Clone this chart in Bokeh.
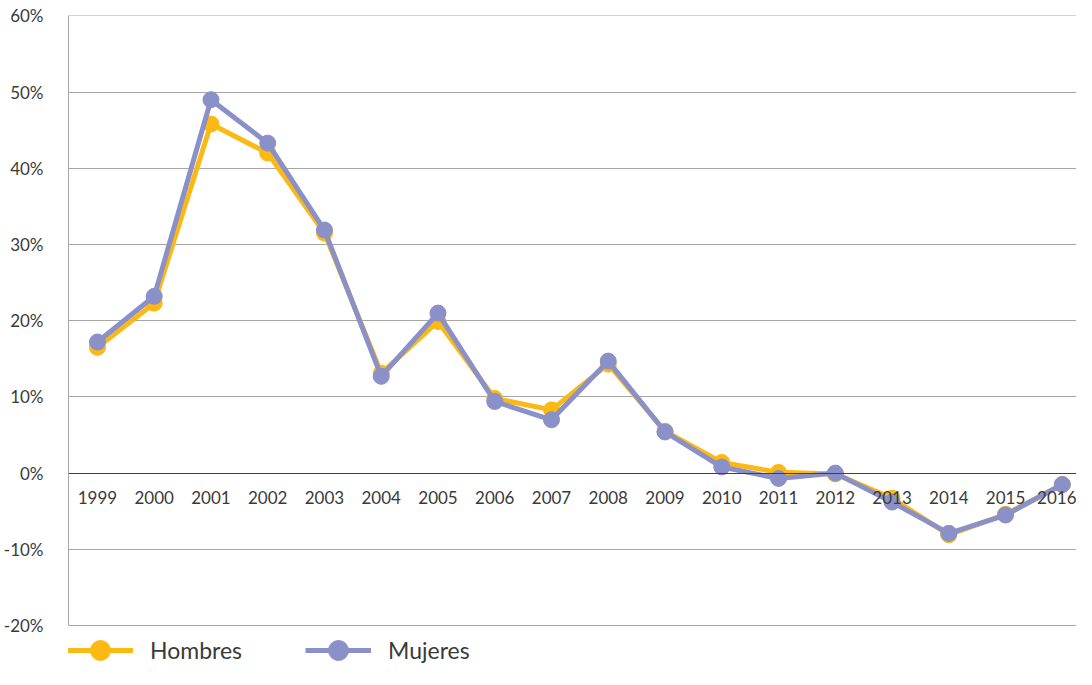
from bokeh.plotting import figure
from bokeh.models import (Range1d, FixedTicker, NumeralTickFormatter, Legend, LegendItem,
                          BasicTickFormatter)
from bokeh.embed import file_html
from bokeh.resources import INLINE

years = [1999, 2000, 2001, 2002, 2003, 2004, 2005, 2006, 2007, 2008,
         2009, 2010, 2011, 2012, 2013, 2014, 2015, 2016]
hombres = [0.165, 0.223, 0.458, 0.420, 0.315, 0.131, 0.199, 0.098, 0.083, 0.143,
           0.055, 0.014, 0.001, -0.001, -0.033, -0.081, -0.054, -0.015]
mujeres = [0.172, 0.232, 0.490, 0.433, 0.319, 0.127, 0.210, 0.094, 0.070, 0.147,
           0.054, 0.008, -0.007, 0.000, -0.038, -0.079, -0.055, -0.015]
y_ticks = [-0.2, -0.1, 0.0, 0.1, 0.2, 0.3, 0.4, 0.5, 0.6]

YELLOW = "#FDB913"
PURPLE = "#8A90C8"
FONT = "Lato"
TXT = "#3a3a3a"

p = figure(width=1076, height=669, output_backend="svg", toolbar_location=None,
           x_range=Range1d(1998.49, 2016.25), y_range=Range1d(-0.2577, 0.6005),
           min_border_left=66, min_border_right=0, min_border_top=15, min_border_bottom=0)
p.outline_line_color = None
p.background_fill_color = "white"

# lines
lh = p.line(years, hombres, line_color=YELLOW, line_width=5)
sh = p.scatter(years, hombres, size=16, fill_color=YELLOW, line_color=YELLOW)
lm = p.line(years, mujeres, line_color=PURPLE, line_width=5)
sm = p.scatter(years, mujeres, size=16, fill_color=PURPLE, line_color=PURPLE)

# x axis at zero
xa = p.xaxis[0]
xa.fixed_location = 0
xa.ticker = FixedTicker(ticks=years)
xa.formatter = BasicTickFormatter(use_scientific=False)
xa.axis_line_color = "#404040"
xa.axis_line_width = 1
xa.major_tick_line_color = None
xa.minor_tick_line_color = None
xa.major_label_standoff = 12
xa.major_label_text_font = FONT
xa.major_label_text_font_size = "17px"
xa.major_label_text_color = TXT

ya = p.yaxis[0]
ya.ticker = FixedTicker(ticks=y_ticks)
ya.formatter = NumeralTickFormatter(format="0%")
ya.bounds = (-0.2, 0.6)
ya.axis_line_color = "#A6A6A6"
ya.major_tick_line_color = None
ya.minor_tick_line_color = None
ya.major_label_standoff = 19
ya.major_label_text_font = FONT
ya.major_label_text_font_size = "17px"
ya.major_label_text_color = TXT

p.xgrid.grid_line_color = None
p.ygrid.ticker = FixedTicker(ticks=y_ticks)
p.ygrid.grid_line_color = "#A6A6A6"
p.ygrid.grid_line_width = 1

legend = Legend(items=[LegendItem(label="Hombres", renderers=[lh, sh]),
                       LegendItem(label="Mujeres", renderers=[lm, sm])],
                orientation="horizontal", location=(-1, -6))
legend.border_line_color = None
legend.background_fill_alpha = 0
legend.margin = 0
legend.padding = 1
legend.glyph_width = 66
legend.glyph_height = 50
legend.label_standoff = 17
legend.spacing = 63
legend.label_text_font = FONT
legend.label_text_font_size = "23px"
legend.label_text_color = TXT
p.add_layout(legend, "center")

open("out.html", "w").write(file_html(p, INLINE))
